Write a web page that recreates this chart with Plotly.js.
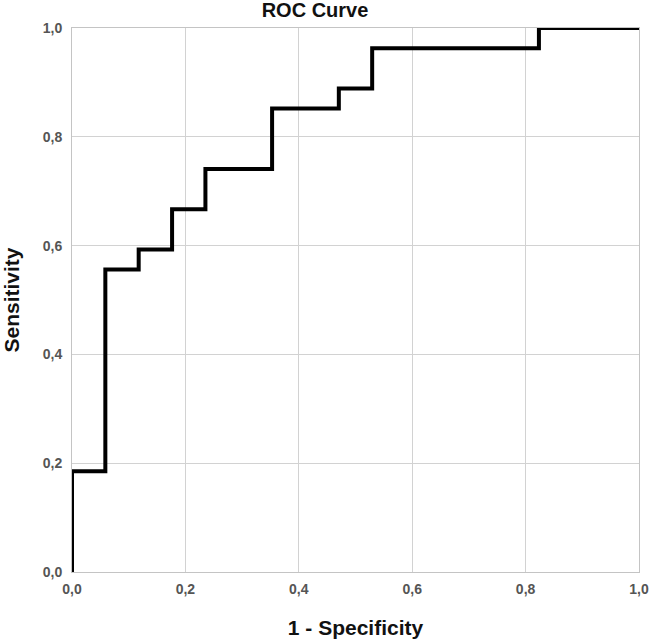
<!DOCTYPE html>
<html>
<head>
<meta charset="utf-8">
<script src="https://cdn.plot.ly/plotly-3.0.1.min.js"></script>
<style>html,body{margin:0;padding:0;background:#fff;}#chart{width:650px;height:643px;}</style>
</head>
<body>
<div id="chart"></div>
<script>
// ROC curve corner points (1 - specificity, sensitivity)
const fpr = [0.0, 0.0, 0.0588, 0.1176, 0.1765, 0.2353, 0.3529, 0.4706, 0.5294, 0.8235, 1.0];
const tpr = [0.0, 0.185, 0.556, 0.593, 0.667, 0.741, 0.852, 0.889, 0.963, 1.0, 1.0];
const tickVals = [0, 0.2, 0.4, 0.6, 0.8, 1.0];
const tickText = ['0,0', '0,2', '0,4', '0,6', '0,8', '1,0'];
const chartTitle = 'ROC Curve';
const xTitle = '1 - Specificity';
const yTitle = 'Sensitivity';

const trace = {
  x: fpr, y: tpr, type: 'scatter', mode: 'lines',
  line: {shape: 'hv', color: '#000', width: 4},
  hoverinfo: 'skip', showlegend: false, cliponaxis: false
};

const axisCommon = {
  range: [0, 1], tickvals: tickVals, ticktext: tickText,
  showgrid: true, gridcolor: '#d2d2d2', gridwidth: 1,
  showline: true, linecolor: '#c4c4c4', linewidth: 1, mirror: true,
  zeroline: false, ticks: '',
  tickfont: {family: 'Liberation Sans, Arial, sans-serif', size: 14, color: '#555', weight: 'bold'},
  fixedrange: true
};

const layout = {
  width: 650, height: 643,
  margin: {l: 72, r: 11, t: 28, b: 70.5},
  paper_bgcolor: '#fff', plot_bgcolor: '#fff',
  font: {family: 'Liberation Sans, Arial, sans-serif'},
  title: {
    text: '<b>' + chartTitle + '</b>',
    font: {size: 20, color: '#111', family: 'Liberation Sans, Arial, sans-serif'},
    x: 315 / 650, xref: 'container', xanchor: 'center',
    y: 1 - 10 / 643, yref: 'container', yanchor: 'middle'
  },
  xaxis: Object.assign({}, axisCommon, {
    ticklabelstandoff: 4,
    title: {text: '<b>' + xTitle + '</b>', standoff: 24,
      font: {size: 21, color: '#111', family: 'Liberation Sans, Arial, sans-serif'}}
  }),
  yaxis: Object.assign({}, axisCommon, {
    ticklabelstandoff: 6,
    title: {text: '<b>' + yTitle + '</b>', standoff: 18,
      font: {size: 21, color: '#111', family: 'Liberation Sans, Arial, sans-serif'}}
  })
};

Plotly.newPlot('chart', [trace], layout, {displayModeBar: false, staticPlot: true});
</script>
</body>
</html>
